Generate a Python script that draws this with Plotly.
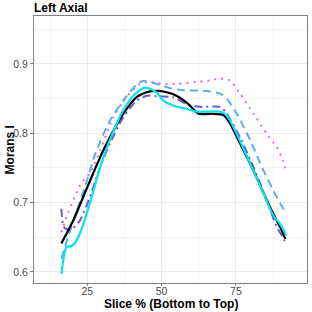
import plotly.graph_objects as go

x_black = [16.3, 20.3, 25, 29.3, 32.6, 37.1, 41.6, 45, 48.3, 51.7, 55, 59, 62.4, 67.4, 70.8, 73, 76.4, 80.9, 85.4, 88.7, 90.4, 91.5, 91.9]
y_black = [0.641, 0.674, 0.722, 0.765, 0.794, 0.828, 0.852, 0.859, 0.861, 0.859, 0.854, 0.842, 0.828, 0.828, 0.826, 0.814, 0.785, 0.746, 0.703, 0.674, 0.66, 0.649, 0.649]

x_cyan = [16.3, 18, 19.7, 21.4, 23.7, 26.5, 29.3, 32.6, 37.1, 40.5, 43.8, 45.5, 48.3, 50.6, 53.9, 58.4, 61.8, 69.7, 71.9, 75.3, 79.8, 84.3, 87.6, 89.9, 91.9]
y_cyan = [0.597, 0.636, 0.637, 0.645, 0.669, 0.708, 0.751, 0.79, 0.833, 0.854, 0.865, 0.865, 0.859, 0.847, 0.84, 0.835, 0.831, 0.831, 0.826, 0.799, 0.756, 0.713, 0.681, 0.669, 0.653]

x_dash = [16.3, 20.3, 24.2, 28.1, 32.6, 37.1, 40.5, 43.3, 45, 48.3, 52.8, 57.3, 65.2, 69.7, 71.9, 75.3, 79.8, 84.3, 88.7, 91.9]
y_dash = [0.619, 0.674, 0.722, 0.775, 0.818, 0.847, 0.865, 0.875, 0.875, 0.871, 0.865, 0.862, 0.861, 0.857, 0.85, 0.828, 0.79, 0.746, 0.708, 0.684]

x_dot = [16.3, 18, 20.8, 23.1, 25.9, 29.3, 33.8, 38.2, 42.7, 46.1, 50.6, 55, 61.8, 66.3, 69.7, 73, 76.4, 80.9, 85.4, 88.7, 90.8, 91.9]
y_dot = [0.657, 0.679, 0.708, 0.729, 0.742, 0.775, 0.823, 0.852, 0.871, 0.874, 0.871, 0.871, 0.874, 0.876, 0.879, 0.876, 0.857, 0.828, 0.799, 0.78, 0.761, 0.744]

x_dashdot = [16.3, 17.1, 19.2, 22.5, 25.9, 29.3, 32.6, 37.1, 41.6, 45, 49.5, 53.9, 58.4, 62.9, 69.7, 71.9, 76.4, 80.9, 85.4, 88.7, 90.8, 91.6]
y_dashdot = [0.691, 0.665, 0.66, 0.674, 0.708, 0.751, 0.785, 0.823, 0.847, 0.854, 0.853, 0.852, 0.842, 0.838, 0.838, 0.828, 0.794, 0.751, 0.703, 0.665, 0.65, 0.642]

x_ticks = [25, 50, 75]
y_ticks = [0.6, 0.7, 0.8, 0.9]

fig = go.Figure()
series = [
    (x_dot, y_dot, "#DA70D6", "2px,5px", 2),
    (x_dash, y_dash, "#5CACEE", "8px,5px", 2),
    (x_dashdot, y_dashdot, "#6A5ACD", "8px,4px,2px,4px", 2),
    (x_black, y_black, "#000000", "solid", 2.2),
    (x_cyan, y_cyan, "#00E5EE", "solid", 2.2),
]
for xs, ys, c, d, w in series:
    fig.add_trace(go.Scatter(x=xs, y=ys, mode="lines",
                             line=dict(color=c, dash=d, width=w, shape="spline", smoothing=0.6),
                             showlegend=False, hoverinfo="skip"))

grid = "#EBEBEB"
border = "#808080"
fig.update_layout(
    width=312, height=312,
    margin=dict(l=34, r=5, t=16, b=29, autoexpand=False),
    paper_bgcolor="white", plot_bgcolor="white",
    font=dict(family="Liberation Sans, Arial, sans-serif"),
    title=dict(text="<b>Left Axial</b>", x=34/312, xanchor="left", y=1 - 8/312, yanchor="middle",
               font=dict(size=12, color="black")),
    xaxis=dict(range=[7.1, 98.9], tickvals=x_ticks, ticktext=[str(v) for v in x_ticks],
               showgrid=True, gridcolor=grid, gridwidth=1, automargin=False,
               minor=dict(tick0=0, dtick=12.5, showgrid=True, gridcolor="#F4F4F4", gridwidth=0.6),
               zeroline=False, showline=True, linecolor=border, linewidth=1, mirror=True,
               ticks="outside", ticklen=2, tickcolor=border, ticklabelstandoff=-4,
               tickfont=dict(size=10.5, color="#4D4D4D")),
    yaxis=dict(range=[0.584, 0.969], tickvals=y_ticks, ticktext=[f"{v:.1f}" for v in y_ticks],
               showgrid=True, gridcolor=grid, gridwidth=1, automargin=False,
               minor=dict(tick0=0.55, dtick=0.05, showgrid=True, gridcolor="#F4F4F4", gridwidth=0.6),
               zeroline=False, showline=True, linecolor=border, linewidth=1, mirror=True,
               ticks="outside", ticklen=3, tickcolor=border,
               tickfont=dict(size=10.5, color="#4D4D4D")),
    annotations=[
        dict(text="<b>Slice % (Bottom to Top)</b>", xref="paper", yref="paper",
             x=0.5, y=-21/267, xanchor="center", yanchor="middle", showarrow=False,
             font=dict(size=12, color="black")),
        dict(text="<b>Morans I</b>", xref="paper", yref="paper", textangle=-90,
             x=-24/272, y=0.5, xanchor="center", yanchor="middle", showarrow=False,
             font=dict(size=12, color="black")),
    ],
)
fig.write_html("out.html", config={"displayModeBar": False},
               post_script="document.body.style.margin='0';document.body.style.overflow='hidden';")
